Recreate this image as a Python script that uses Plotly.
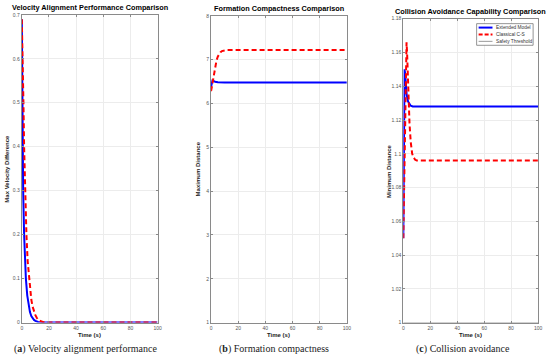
import plotly.graph_objects as go

W, H = 550, 361

# ---------------- data ----------------
x_ticks = [0, 20, 40, 60, 80, 100]

# (a) velocity alignment
t_a_ext = [0, 0.3, 0.5, 1, 1.7, 2.2, 3, 4, 5, 6, 7, 8, 9, 10, 12, 15, 20, 40, 60, 80, 100]
v_a_ext = [0.69, 0.5, 0.4, 0.3, 0.2, 0.15, 0.1, 0.062, 0.038, 0.024, 0.015, 0.009, 0.006,
           0.004, 0.0015, 0.0003, 0, 0, 0, 0, 0]
t_a_cs = [0, 0.7, 1.2, 1.7, 2.3, 3.4, 4.3, 5.3, 6, 7, 8, 9, 10, 11, 12, 14, 16, 20, 40, 60, 80, 100]
v_a_cs = [0.69, 0.6, 0.5, 0.4, 0.3, 0.2, 0.14, 0.1, 0.075, 0.052, 0.036, 0.025, 0.017, 0.011,
          0.007, 0.003, 0.001, 0, 0, 0, 0, 0]

# (b) formation compactness
t_b_ext = [0, 0.5, 1, 2, 3, 5, 8, 10, 20, 40, 60, 80, 100]
v_b_ext = [6.38, 6.5, 6.52, 6.51, 6.495, 6.485, 6.48, 6.48, 6.48, 6.48, 6.48, 6.48, 6.48]
t_b_cs = [0, 1, 2, 3, 4, 5, 6, 7, 8, 10, 12, 20, 40, 60, 80, 100]
v_b_cs = [6.28, 6.45, 6.65, 6.85, 6.98, 7.07, 7.13, 7.17, 7.195, 7.215, 7.22, 7.22, 7.22,
          7.22, 7.22, 7.22]

# (c) collision avoidance
t_c_ext = [0, 0.3, 0.6, 0.9, 1.3, 1.8, 2.5, 3.5, 4.5, 5.5, 7, 10, 20, 40, 60, 80, 100]
v_c_ext = [1.05, 1.10, 1.14, 1.15, 1.148, 1.14, 1.135, 1.131, 1.1295, 1.1285, 1.128, 1.128,
           1.128, 1.128, 1.128, 1.128, 1.128]
t_c_cs = [0, 0.5, 1, 1.5, 2, 2.4, 2.8, 3.4, 4, 4.6, 5.5, 6.6, 7.5, 8.8, 10, 12, 20, 40, 60, 80, 100]
v_c_cs = [1.05, 1.08, 1.11, 1.14, 1.16, 1.166, 1.16, 1.14, 1.128, 1.118, 1.107, 1.1, 1.098,
          1.0965, 1.096, 1.096, 1.096, 1.096, 1.096, 1.096, 1.096]
t_c_safe = [0, 100]
v_c_safe = [1.0, 1.0]

ya_ticks = [0, 0.1, 0.2, 0.3, 0.4, 0.5, 0.6, 0.7]
yb_ticks = [1, 2, 3, 4, 5, 6, 7, 8]
yc_ticks = [1, 1.02, 1.04, 1.06, 1.08, 1.1, 1.12, 1.14, 1.16, 1.18]
yc_labels = ["1", "1.02", "1.04", "1.06", "1.08", "1.1", "1.12", "1.14", "1.16", "1.18"]

titles = ["Velocity Alignment Performance Comparison",
          "Formation Compactness Comparison",
          "Collision Avoidance Capability Comparison"]
ylabels = ["Max Velocity Difference", "Maximum Distance", "Minimum Distance"]
captions = ["(<b>a</b>) Velocity alignment performance",
            "(<b>b</b>) Formation compactness",
            "(<b>c</b>) Collision avoidance"]
legend_names = ["Extended Model", "Classical C-S", "Safety Threshold"]

# ---------------- layout geometry (pixels) ----------------
panels = [  # left, right, top, bottom
    (21, 158, 12, 325),
    (212, 349, 13, 325),
    (406, 542, 16, 325),
]
ylab_x = [6, 199, 391]
caption_x = [85, 276, 466]

def px(x):
    return x / W

def py(y):
    return 1 - y / H

BLUE = "rgb(0,0,255)"
RED = "rgb(255,0,0)"
GRAY = "rgb(128,128,128)"
DASH = "5px,3px"

fig = go.Figure()

series = [
    (t_a_ext, v_a_ext, t_a_cs, v_a_cs),
    (t_b_ext, v_b_ext, t_b_cs, v_b_cs),
    (t_c_ext, v_c_ext, t_c_cs, v_c_cs),
]
yranges = [[0, 0.7], [1, 8], [1, 1.18]]
yticks = [(ya_ticks, [str(v) for v in ya_ticks]),
          (yb_ticks, [str(v) for v in yb_ticks]),
          (yc_ticks, yc_labels)]

for i, (te, ve, tc, vc) in enumerate(series):
    xa = "x" if i == 0 else f"x{i+1}"
    ya = "y" if i == 0 else f"y{i+1}"
    if i == 2:
        fig.add_trace(go.Scatter(x=t_c_safe, y=v_c_safe, mode="lines",
                                 line=dict(color=GRAY, width=0.8),
                                 xaxis=xa, yaxis=ya, name=legend_names[2], showlegend=False))
    fig.add_trace(go.Scatter(x=te, y=ve, mode="lines", line=dict(color=BLUE, width=2),
                             xaxis=xa, yaxis=ya, name=legend_names[0], showlegend=False))
    fig.add_trace(go.Scatter(x=tc, y=vc, mode="lines",
                             line=dict(color=RED, width=2, dash=DASH),
                             xaxis=xa, yaxis=ya, name=legend_names[1], showlegend=False))

axis_common = dict(showline=True, mirror="ticks", linecolor="#8a8a8a", linewidth=1,
                   ticks="inside", ticklen=2, tickcolor="#8a8a8a",
                   showgrid=True, gridcolor="#ececec", gridwidth=1, zeroline=False,
                   tickfont=dict(family="Liberation Sans, Arial", size=5, color="#555"))

layout_axes = {}
annotations = []
shapes = []
for i, (l, r, t, b) in enumerate(panels):
    xk = "xaxis" if i == 0 else f"xaxis{i+1}"
    yk = "yaxis" if i == 0 else f"yaxis{i+1}"
    xa_anchor = "y" if i == 0 else f"y{i+1}"
    ya_anchor = "x" if i == 0 else f"x{i+1}"
    layout_axes[xk] = dict(domain=[px(l), px(r)], anchor=xa_anchor, range=[0, 100],
                           tickvals=x_ticks, ticktext=[str(v) for v in x_ticks],
                           **axis_common)
    layout_axes[yk] = dict(domain=[py(b), py(t)], anchor=ya_anchor, range=yranges[i],
                           tickvals=yticks[i][0], ticktext=yticks[i][1], **axis_common)
    cx = (l + r) / 2
    annotations.append(dict(text=f"<b>{titles[i]}</b>", x=px(cx), y=py(t - 1), xref="paper",
                            yref="paper", xanchor="center", yanchor="bottom", showarrow=False,
                            font=dict(family="Liberation Sans, Arial", size=7.3, color="#000")))
    annotations.append(dict(text="<b>Time (s)</b>", x=px(cx), y=py(338), xref="paper",
                            yref="paper", xanchor="center", yanchor="middle", showarrow=False,
                            font=dict(family="Liberation Sans, Arial", size=6, color="#222")))
    annotations.append(dict(text=f"<b>{ylabels[i]}</b>", x=px(ylab_x[i]), y=py((t + b) / 2),
                            xref="paper", yref="paper", xanchor="center", yanchor="middle",
                            textangle=-90, showarrow=False,
                            font=dict(family="Liberation Sans, Arial", size=6, color="#222")))
    annotations.append(dict(text=captions[i], x=px(caption_x[i]), y=py(352), xref="paper",
                            yref="paper", xanchor="center", yanchor="middle", showarrow=False,
                            font=dict(family="Liberation Serif, Times New Roman", size=10,
                                      color="#222")))

# manual legend for panel (c)
leg_box = (480, 537, 21, 43)
shapes.append(dict(type="rect", xref="paper", yref="paper",
                   x0=px(leg_box[0]), x1=px(leg_box[1]), y0=py(leg_box[3]), y1=py(leg_box[2]),
                   line=dict(color="#666", width=0.7), fillcolor="white", layer="above"))
leg_rows = [25, 32, 39]
leg_styles = [dict(color=BLUE, width=2), dict(color=RED, width=2, dash="4px,2px"),
              dict(color=GRAY, width=0.8)]
for name, yy, st in zip(legend_names, leg_rows, leg_styles):
    shapes.append(dict(type="line", xref="paper", yref="paper", x0=px(482), x1=px(496),
                       y0=py(yy), y1=py(yy), line=st, layer="above"))
    annotations.append(dict(text=name, x=px(497.5), y=py(yy), xref="paper", yref="paper",
                            xanchor="left", yanchor="middle", showarrow=False,
                            font=dict(family="Liberation Sans, Arial", size=4.8, color="#333")))

fig.update_layout(
    width=W, height=H, margin=dict(l=0, r=0, t=0, b=0),
    paper_bgcolor="white", plot_bgcolor="white",
    annotations=annotations, shapes=shapes, showlegend=False,
    **layout_axes,
)

fig.write_html("out.html", config={"displayModeBar": False},
               post_script="document.body.style.margin='0';")
